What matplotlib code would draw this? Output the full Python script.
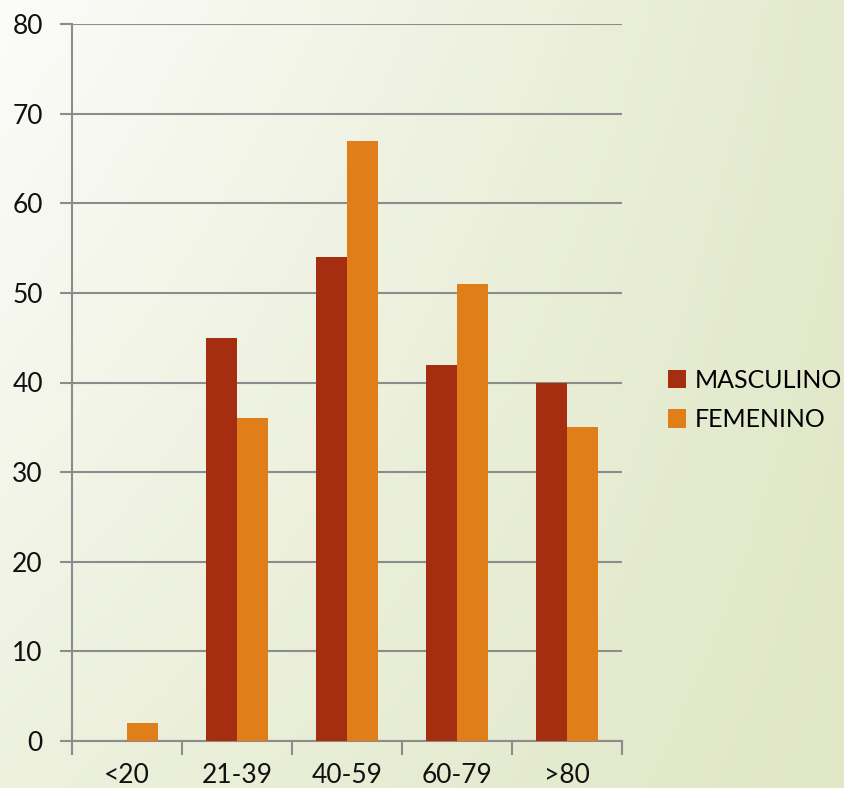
import numpy as np
import matplotlib.pyplot as plt

categories = ['<20', '21-39', '40-59', '60-79', '>80']
masculino = [0, 45, 54, 42, 40]
femenino = [2, 36, 67, 51, 35]
yticks = [0, 10, 20, 30, 40, 50, 60, 70, 80]

col_m = '#A52D10'
col_f = '#E07E1A'
grid_col = '#8C8C8C'

plt.rcParams['font.family'] = ['Lato', 'DejaVu Sans']

fig = plt.figure(figsize=(8.44, 7.88), dpi=100)

# background gradient
bg = fig.add_axes([0, 0, 1, 1], zorder=-1)
h, w = 200, 200
u = np.linspace(0, 1, w)[None, :, None]
v = np.linspace(0, 1, h)[:, None, None]
tl = np.array([252, 252, 250]) / 255
tr = np.array([228, 234, 205]) / 255
bl = np.array([237, 241, 222]) / 255
br = np.array([224, 231, 198]) / 255
img = (1 - u) * (1 - v) * tl + u * (1 - v) * tr + (1 - u) * v * bl + u * v * br
bg.imshow(img, aspect='auto', extent=[0, 1, 0, 1])
bg.axis('off')

ax = fig.add_axes([72 / 844, 47 / 788, 550 / 844, 717 / 788])
ax.patch.set_alpha(0)

x = np.arange(len(categories))
bw = 0.285
ax.bar(x - bw / 2, masculino, bw, color=col_m, label='MASCULINO', zorder=3)
ax.bar(x + bw / 2, femenino, bw, color=col_f, label='FEMENINO', zorder=3)

ax.set_xlim(-0.5, len(categories) - 0.5)
ax.set_ylim(0, 80)
ax.set_yticks(yticks)
ax.set_yticklabels([str(t) for t in yticks], fontsize=19, color='#111111')
ax.yaxis.grid(True, color=grid_col, linewidth=1.5, zorder=0)

ax.set_xticks(x)
ax.set_xticklabels(categories, fontsize=19, color='#111111')
ax.set_xticks(np.arange(-0.5, len(categories)), minor=True)
ax.tick_params(axis='x', which='major', length=0, pad=16)
ax.tick_params(axis='x', which='minor', length=10, width=1.5, color=grid_col, direction='out')
ax.tick_params(axis='y', length=9, width=1.5, color=grid_col, pad=12)

for s in ['top', 'right']:
    ax.spines[s].set_visible(False)
for s in ['left', 'bottom']:
    ax.spines[s].set_color(grid_col)
    ax.spines[s].set_linewidth(1.5)

leg = fig.legend(loc='center left', bbox_to_anchor=(645 / 844, 1 - 400 / 788),
                 frameon=False, fontsize=18, handlelength=0.75, handleheight=0.75,
                 handletextpad=0.35, labelspacing=0.65)

fig.savefig('out.png', dpi=100)
